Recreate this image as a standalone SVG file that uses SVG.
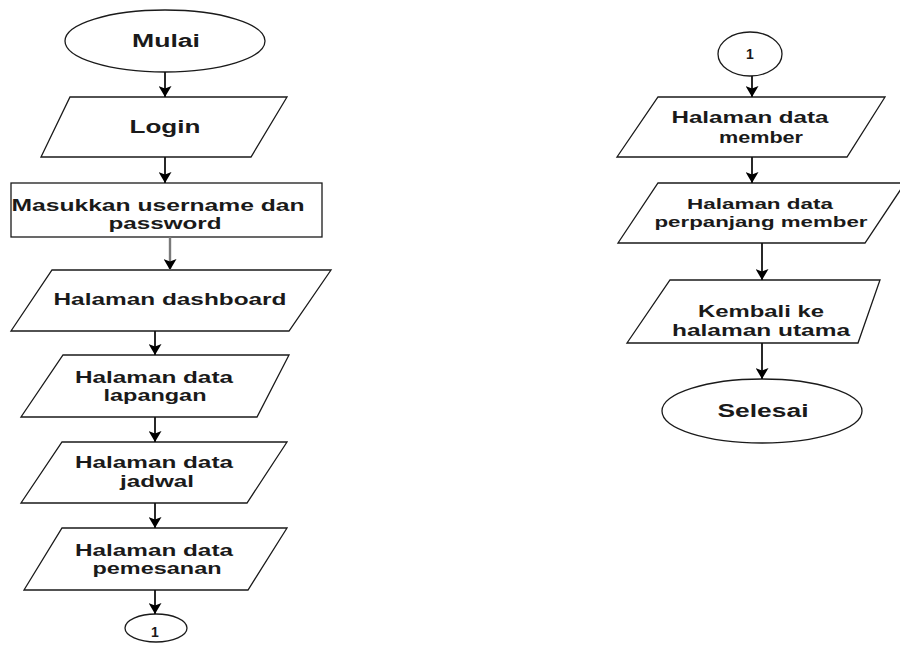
<svg xmlns="http://www.w3.org/2000/svg" width="900" height="650" viewBox="0 0 900 650">
  <defs>
    <marker id="arrow" viewBox="0 0 11 13" refX="11" refY="6.5" markerWidth="11" markerHeight="13" markerUnits="userSpaceOnUse" orient="auto">
      <path d="M0,0 L11,6.5 L0,13 L2.5,6.5 Z" fill="#000"/>
    </marker>
  </defs>
  <style>
    .shape { fill: #fff; stroke: #1a1a1a; stroke-width: 1.3; }
    .edge { fill: none; stroke: #111; stroke-width: 1.8; marker-end: url(#arrow); }
    .edge.gray { stroke: #7a7a7a; stroke-width: 2.4; }
    text { font-family: "Liberation Sans", Arial, sans-serif; font-weight: bold; fill: #1a1a1a; text-anchor: middle; }
    .t18 { font-size: 18px; }
    .t17 { font-size: 17px; }
    .t16 { font-size: 16px; }
    .t15 { font-size: 15px; }
    .t14 { font-size: 14px; }
  </style>
  <rect width="900" height="650" fill="#fff"/>

  <!-- left column -->
  <g id="mulai">
    <ellipse class="shape" cx="165" cy="41" rx="100" ry="31"/>
    <text class="t18" x="166" y="47" textLength="68" lengthAdjust="spacingAndGlyphs">Mulai</text>
  </g>
  <g id="login">
    <polygon class="shape" points="70,97 287,97 251,157 41,157"/>
    <text class="t18" x="165" y="133" textLength="71" lengthAdjust="spacingAndGlyphs">Login</text>
  </g>
  <g id="masukkan">
    <rect class="shape" x="11" y="183" width="311" height="54"/>
    <text class="t16" x="158" y="211" textLength="293" lengthAdjust="spacingAndGlyphs">Masukkan username dan</text>
    <text class="t16" x="165" y="229" textLength="113" lengthAdjust="spacingAndGlyphs">password</text>
  </g>
  <g id="dashboard">
    <polygon class="shape" points="52,270 331,270 289,331 11,331"/>
    <text class="t17" x="170" y="305" textLength="233" lengthAdjust="spacingAndGlyphs">Halaman dashboard</text>
  </g>
  <g id="lapangan">
    <polygon class="shape" points="63,355 289,355 257,417 21,417"/>
    <text class="t16" x="154" y="383" textLength="158" lengthAdjust="spacingAndGlyphs">Halaman data</text>
    <text class="t16" x="155" y="401" textLength="103" lengthAdjust="spacingAndGlyphs">lapangan</text>
  </g>
  <g id="jadwal">
    <polygon class="shape" points="62,442 287,442 247,503 21,503"/>
    <text class="t16" x="154" y="468" textLength="158" lengthAdjust="spacingAndGlyphs">Halaman data</text>
    <text class="t16" x="157" y="487" textLength="74" lengthAdjust="spacingAndGlyphs">jadwal</text>
  </g>
  <g id="pemesanan">
    <polygon class="shape" points="62,528 287,528 248,590 24,590"/>
    <text class="t16" x="154" y="556" textLength="158" lengthAdjust="spacingAndGlyphs">Halaman data</text>
    <text class="t16" x="157" y="574" textLength="129" lengthAdjust="spacingAndGlyphs">pemesanan</text>
  </g>
  <g id="konektor-keluar">
    <ellipse class="shape" cx="156" cy="628" rx="31" ry="14"/>
    <text class="t14" x="155" y="637">1</text>
  </g>

  <!-- right column -->
  <g id="konektor-masuk">
    <ellipse class="shape" cx="750" cy="54" rx="32" ry="22"/>
    <text class="t14" x="750" y="59">1</text>
  </g>
  <g id="member">
    <polygon class="shape" points="658,97 885,97 847,157 617,157"/>
    <text class="t16" x="750" y="123" textLength="157" lengthAdjust="spacingAndGlyphs">Halaman data</text>
    <text class="t16" x="761" y="143" textLength="84" lengthAdjust="spacingAndGlyphs">member</text>
  </g>
  <g id="perpanjang">
    <polygon class="shape" points="658,183 905,183 865,243 618,243"/>
    <text class="t14" x="760" y="209" textLength="146" lengthAdjust="spacingAndGlyphs">Halaman data</text>
    <text class="t14" x="761" y="227" textLength="213" lengthAdjust="spacingAndGlyphs">perpanjang member</text>
  </g>
  <g id="kembali">
    <polygon class="shape" points="670,280 880,280 858,343 627,343"/>
    <text class="t16" x="761" y="317" textLength="126" lengthAdjust="spacingAndGlyphs">Kembali ke</text>
    <text class="t16" x="761" y="336" textLength="178" lengthAdjust="spacingAndGlyphs">halaman utama</text>
  </g>
  <g id="selesai">
    <ellipse class="shape" cx="762" cy="411" rx="100" ry="32"/>
    <text class="t18" x="763" y="417" textLength="91" lengthAdjust="spacingAndGlyphs">Selesai</text>
  </g>

  <!-- connectors -->
  <g id="connectors">
    <path class="edge" d="M165,72 L165,97"/>
    <path class="edge" d="M165,157 L165,183"/>
    <path class="edge gray" d="M170,237 L170,270"/>
    <path class="edge" d="M155,331 L155,355"/>
    <path class="edge" d="M155,417 L155,442"/>
    <path class="edge" d="M155,503 L155,528"/>
    <path class="edge" d="M155,590 L155,614"/>
    <path class="edge" d="M752,76 L752,97"/>
    <path class="edge" d="M752,157 L752,183"/>
    <path class="edge" d="M762,243 L762,280"/>
    <path class="edge" d="M762,343 L762,379"/>
  </g>
</svg>
